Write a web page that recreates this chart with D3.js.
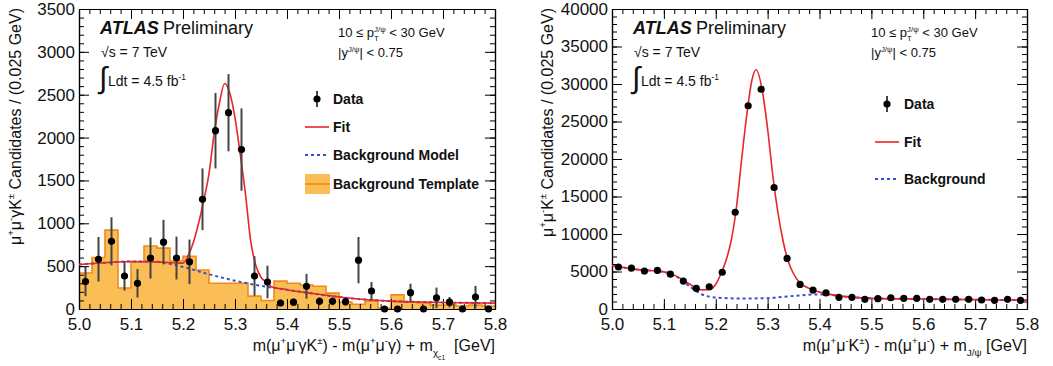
<!DOCTYPE html>
<html>
<head>
<meta charset="utf-8">
<script src="https://cdn.jsdelivr.net/npm/d3@7"></script>
<style>
body { margin: 0; background: #fff; }
svg text { font-family: "Liberation Sans", Arial, sans-serif; white-space: pre; }
</style>
</head>
<body>
<script>
const width = 1053, height = 366;

// binning shared by both panels
const massLow = 5.0, massHigh = 5.8, binWidth = 0.025;
const xTickValues = [5.0, 5.1, 5.2, 5.3, 5.4, 5.5, 5.6, 5.7, 5.8];

// left panel: chi_c1 K candidates
const chiCounts = [320, 580, 790, 385, 300, 595, 780, 595, 550, 1280, 2080, 2290, 1860, 385, 315, 70,
                   80, 265, 90, 90, 85, 570, 210, 0, 0, 190, 0, 130, 80, 0, 140, 0];
const chiErrors = [170, 260, 280, 170, 165, 240, 260, 250, 260, 360, 440, 450, 480, 230, 190, 40,
                   40, 145, 45, 45, 45, 270, 105, 0, 0, 105, 0, 120, 60, 0, 130, 0];
const chiTemplate = [420, 600, 920, 245, 550, 735, 710, 560, 615, 455, 300, 300, 300, 150, 100, 325,
                     300, 280, 265, 185, 80, 55, 90, 10, 165, 80, 70, 45, 45, 35, 45, 35];
const chiFitMass = [5.0, 5.05, 5.1, 5.15, 5.2, 5.21, 5.22, 5.23, 5.24, 5.25, 5.26, 5.27, 5.28, 5.29, 5.30,
                    5.31, 5.32, 5.33, 5.34, 5.35, 5.36, 5.37, 5.4, 5.45, 5.5, 5.55, 5.6, 5.65, 5.7, 5.75, 5.8];
const chiFitCounts = [520, 540, 555, 550, 535, 625, 780, 1000, 1270, 1580, 2050, 2400, 2630, 2520, 2230,
                      1810, 1350, 800, 510, 370, 315, 260, 225, 180, 140, 110, 92, 82, 76, 72, 68];
const chiBkgMass = [5.0, 5.05, 5.1, 5.15, 5.2, 5.25, 5.3, 5.35, 5.4, 5.45, 5.5, 5.55, 5.6, 5.65, 5.7, 5.75, 5.8];
const chiBkgCounts = [520, 540, 555, 550, 490, 405, 330, 270, 225, 180, 140, 110, 92, 82, 76, 72, 68];
const chiYTicks = [0, 500, 1000, 1500, 2000, 2500, 3000, 3500];

// right panel: J/psi K candidates
const jpsiCounts = [5600, 5450, 5070, 5150, 4650, 3730, 2750, 2970, 4900, 12900, 27100, 29300, 16200, 6750, 3280, 2530,
                    2150, 1560, 1560, 1290, 1380, 1500, 1420, 1420, 1290, 1290, 1290, 1290, 1200, 1160, 1290, 1160];
const jpsiFitMass = [5.0, 5.05, 5.1, 5.125, 5.15, 5.175, 5.19, 5.2, 5.21, 5.22, 5.23, 5.24, 5.25, 5.26, 5.27, 5.278,
                     5.29, 5.30, 5.31, 5.32, 5.33, 5.34, 5.35, 5.36, 5.37, 5.38, 5.4, 5.42, 5.45, 5.5, 5.6, 5.7, 5.8];
const jpsiFitCounts = [5780, 5250, 4950, 4350, 3300, 2550, 2650, 3300, 4700, 6500, 9200, 13600, 20000, 26000, 30600, 31900,
                       29000, 24000, 17800, 12800, 9000, 6300, 4700, 3650, 3100, 2750, 2250, 1950, 1650, 1420, 1330, 1250, 1170];
const jpsiBkgMass = [5.0, 5.05, 5.1, 5.125, 5.15, 5.175, 5.2, 5.25, 5.3, 5.35, 5.4, 5.42, 5.45, 5.5, 5.6, 5.7, 5.8];
const jpsiBkgCounts = [5780, 5250, 4950, 4300, 3000, 1900, 1520, 1400, 1450, 1750, 1950, 1900, 1650, 1420, 1330, 1250, 1170];
const jpsiYTicks = [0, 5000, 10000, 15000, 20000, 25000, 30000, 35000, 40000];

const colorFit = "#e8252b";
const colorBkg = "#3d4bd0";
const colorTemplateFill = "#fbbd55";
const colorTemplateLine = "#ee8c1a";

const svg = d3.select("body")
	.append("svg")
	.attr("width", width)
	.attr("height", height);

// text built from pieces so super/subscripts can be placed like ROOT latex
function richText(parent, x, y, size, parts, opts = {}) {
	const g = parent.append("g").attr("transform", `translate(${x},${y})`);
	const inner = g.append("g");
	let cx = 0;
	function piece(txt, s, dy) {
		const t = inner.append("text")
			.attr("x", cx)
			.attr("y", dy)
			.attr("font-size", s)
			.attr("font-weight", opts.bold ? "bold" : "normal")
			.attr("fill", "#111")
			.text(txt);
		return t.node().getComputedTextLength();
	}
	for (const part of parts) {
		const [txt, kind, extra] = part;
		if (!kind) {
			cx += piece(txt, size, 0);
		} else if (kind === "sup") {
			let w = piece(txt, size * 0.6, -size * 0.42);
			if (extra) w = Math.max(w, piece(extra, size * 0.6, size * 0.3));
			cx += w;
		} else if (kind === "sub") {
			cx += piece(txt, size * 0.62, size * 0.32);
		} else if (kind === "subsub") {
			cx += piece(txt, size * 0.42, size * 0.55);
		}
	}
	if (opts.anchor === "end") inner.attr("transform", `translate(${-cx},0)`);
	return g;
}

function drawPanel(p) {
	const g = svg.append("g");
	const x = d3.scaleLinear().domain([massLow, massHigh]).range([p.left, p.right]);
	const y = d3.scaleLinear().domain([0, p.yMax]).range([p.bottom, p.top]);
	const xMinor = d3.range(0, 41).map(i => massLow + i * 0.02);
	const yMinor = d3.range(0, p.yMax + 1, p.yMinorStep);

	const axes = [
		[d3.axisBottom(x).tickValues(xTickValues).tickSize(-10).tickPadding(9).tickFormat(d3.format(".1f")), `translate(0,${p.bottom})`],
		[d3.axisBottom(x).tickValues(xMinor).tickSize(-5).tickFormat(""), `translate(0,${p.bottom})`],
		[d3.axisTop(x).tickValues(xTickValues).tickSize(-10).tickFormat(""), `translate(0,${p.top})`],
		[d3.axisTop(x).tickValues(xMinor).tickSize(-5).tickFormat(""), `translate(0,${p.top})`],
		[d3.axisLeft(y).tickValues(p.yTicks).tickSize(-10).tickPadding(4).tickFormat(d3.format("d")), `translate(${p.left},0)`],
		[d3.axisLeft(y).tickValues(yMinor).tickSize(-5).tickFormat(""), `translate(${p.left},0)`],
		[d3.axisRight(y).tickValues(p.yTicks).tickSize(-10).tickFormat(""), `translate(${p.right},0)`],
		[d3.axisRight(y).tickValues(yMinor).tickSize(-5).tickFormat(""), `translate(${p.right},0)`]
	];

	// template histogram goes under everything
	if (p.template) {
		const steps = p.template.map((v, i) => [massLow + i * binWidth, v]);
		steps.push([massHigh, p.template[p.template.length - 1]]);
		g.append("path")
			.datum(steps)
			.attr("fill", colorTemplateFill)
			.attr("d", d3.area().curve(d3.curveStepAfter).x(d => x(d[0])).y0(y(0)).y1(d => y(d[1])));
		g.append("path")
			.datum(steps)
			.attr("fill", "none")
			.attr("stroke", colorTemplateLine)
			.attr("stroke-width", 1.6)
			.attr("d", d3.line().curve(d3.curveStepAfter).x(d => x(d[0])).y(d => y(d[1])));
	}

	for (const [axis, tr] of axes) {
		const a = g.append("g").attr("transform", tr).call(axis.tickSizeOuter(0));
		a.attr("font-size", 17).attr("font-family", "Liberation Sans, Arial, sans-serif");
		a.selectAll("line").attr("stroke", "#000").attr("stroke-width", 1);
		a.select(".domain").attr("stroke", "#000").attr("stroke-width", 1.2);
		a.selectAll("text").attr("fill", "#111");
	}

	const curve = d3.line().curve(d3.curveMonotoneX).x(d => x(d[0])).y(d => y(d[1]));
	g.append("path")
		.datum(d3.zip(p.bkgMass, p.bkgCounts))
		.attr("fill", "none")
		.attr("stroke", colorBkg)
		.attr("stroke-width", 2)
		.attr("stroke-dasharray", "3,3")
		.attr("d", curve);
	g.append("path")
		.datum(d3.zip(p.fitMass, p.fitCounts))
		.attr("fill", "none")
		.attr("stroke", colorFit)
		.attr("stroke-width", 1.6)
		.attr("d", curve);

	const centres = p.counts.map((c, i) => massLow + (i + 0.5) * binWidth);
	if (p.errors) {
		g.selectAll("line.err")
			.data(p.counts)
			.enter()
			.append("line")
			.attr("class", "err")
			.attr("x1", (d, i) => x(centres[i]))
			.attr("x2", (d, i) => x(centres[i]))
			.attr("y1", (d, i) => y(d - p.errors[i]))
			.attr("y2", (d, i) => y(d + p.errors[i]))
			.attr("stroke", "#444")
			.attr("stroke-width", 2);
	}
	g.selectAll("circle.pt")
		.data(p.counts)
		.enter()
		.append("circle")
		.attr("class", "pt")
		.attr("cx", (d, i) => x(centres[i]))
		.attr("cy", d => y(d))
		.attr("r", 3.6)
		.attr("fill", "#000");

	// labels in the top-left corner
	const tx = p.left + 21;
	richText(g, tx, 34, 18, [["ATLAS"]], { bold: true }).select("text").attr("font-style", "italic");
	g.append("text").attr("x", tx + 63).attr("y", 34).attr("font-size", 18).attr("fill", "#111").text("Preliminary");
	g.append("text").attr("x", tx + 1).attr("y", 57).attr("font-size", 14).attr("fill", "#111").text("\u221As = 7 TeV");
	g.append("text").attr("x", tx - 1).attr("y", 88).attr("font-size", 30).attr("fill", "#111").text("\u222B");
	richText(g, tx + 8, 86, 14, [["Ldt = 4.5 fb"], ["-1", "sup"]]);

	richText(g, p.kinX, 37, 13, [["10 \u2264 p"], ["J/\u03C8", "sup", "T"], [" < 30 GeV"]]);
	richText(g, p.kinX, 57, 13, [["|y"], ["J/\u03C8", "sup"], ["| < 0.75"]]);

	// axis titles
	const yt = g.append("g").attr("transform", `translate(${p.yTitleX},8) rotate(-90)`);
	richText(yt, 0, 0, 16, p.yTitle, { anchor: "end" });
	richText(g, p.right, 351, 16, p.xTitle, { anchor: "end" });

	return { g, x, y };
}

function drawLegend(g, items, lx, tx) {
	for (const it of items) {
		if (it.kind === "data") {
			g.append("line").attr("x1", lx).attr("x2", lx).attr("y1", it.y - 8).attr("y2", it.y + 8)
				.attr("stroke", "#444").attr("stroke-width", 2);
			g.append("circle").attr("cx", lx).attr("cy", it.y).attr("r", 3.6).attr("fill", "#000");
		} else if (it.kind === "fit") {
			g.append("line").attr("x1", lx - 12).attr("x2", lx + 12).attr("y1", it.y).attr("y2", it.y)
				.attr("stroke", colorFit).attr("stroke-width", 1.6);
		} else if (it.kind === "bkg") {
			g.append("line").attr("x1", lx - 12).attr("x2", lx + 12).attr("y1", it.y).attr("y2", it.y)
				.attr("stroke", colorBkg).attr("stroke-width", 2).attr("stroke-dasharray", "3,3");
		} else if (it.kind === "template") {
			g.append("rect").attr("x", lx - 12).attr("y", it.y - 10).attr("width", 25).attr("height", 20)
				.attr("fill", colorTemplateFill);
			g.append("line").attr("x1", lx - 12).attr("x2", lx + 13).attr("y1", it.y).attr("y2", it.y)
				.attr("stroke", colorTemplateLine).attr("stroke-width", 1.6);
		}
		g.append("text").attr("x", tx).attr("y", it.y + 5).attr("font-size", 14)
			.attr("font-weight", "bold").attr("fill", "#111").text(it.label);
	}
}

function main() {
	const left = drawPanel({
		left: 79, right: 495, top: 9, bottom: 309,
		yMax: 3500, yTicks: chiYTicks, yMinorStep: 100,
		counts: chiCounts, errors: chiErrors, template: chiTemplate,
		fitMass: chiFitMass, fitCounts: chiFitCounts,
		bkgMass: chiBkgMass, bkgCounts: chiBkgCounts,
		kinX: 338, yTitleX: 21,
		yTitle: [["\u03BC"], ["+", "sup"], ["\u03BC"], ["-", "sup"], ["\u03B3K"], ["\u00B1", "sup"], [" Candidates / (0.025 GeV)"]],
		xTitle: [["m(\u03BC"], ["+", "sup"], ["\u03BC"], ["-", "sup"], ["\u03B3K"], ["\u00B1", "sup"], [") - m(\u03BC"], ["+", "sup"],
			["\u03BC"], ["-", "sup"], ["\u03B3) + m"], ["\u03C7", "sub"], ["c1", "subsub"], ["  [GeV]"]]
	});
	drawLegend(left.g, [
		{ kind: "data", y: 99, label: "Data" },
		{ kind: "fit", y: 127, label: "Fit" },
		{ kind: "bkg", y: 155, label: "Background Model" },
		{ kind: "template", y: 184, label: "Background Template" }
	], 317, 333);

	const right = drawPanel({
		left: 612, right: 1027, top: 9, bottom: 309,
		yMax: 40000, yTicks: jpsiYTicks, yMinorStep: 1000,
		counts: jpsiCounts,
		fitMass: jpsiFitMass, fitCounts: jpsiFitCounts,
		bkgMass: jpsiBkgMass, bkgCounts: jpsiBkgCounts,
		kinX: 871, yTitleX: 553,
		yTitle: [["\u03BC"], ["+", "sup"], ["\u03BC"], ["-", "sup"], ["K"], ["\u00B1", "sup"], [" Candidates / (0.025 GeV)"]],
		xTitle: [["m(\u03BC"], ["+", "sup"], ["\u03BC"], ["-", "sup"], ["K"], ["\u00B1", "sup"], [") - m(\u03BC"], ["+", "sup"],
			["\u03BC"], ["-", "sup"], [") + m"], ["J/\u03C8", "sub"], [" [GeV]"]]
	});
	drawLegend(right.g, [
		{ kind: "data", y: 104, label: "Data" },
		{ kind: "fit", y: 142, label: "Fit" },
		{ kind: "bkg", y: 179, label: "Background" }
	], 887, 904);
	console.log("done drawing");
}

main();
</script>
</body>
</html>
